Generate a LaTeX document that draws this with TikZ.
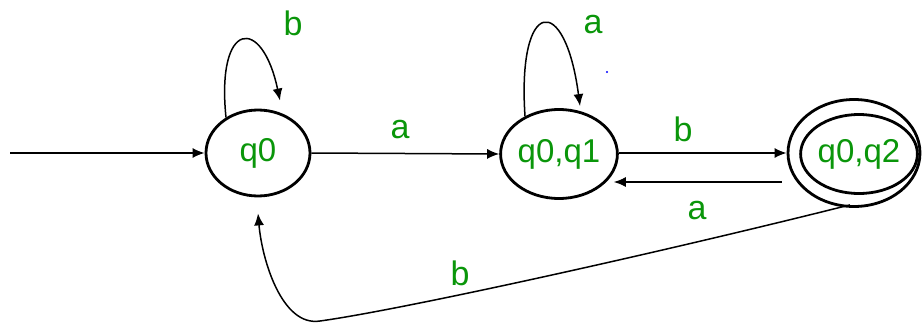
\documentclass[tikz,border=0pt]{standalone}
\usepackage{fontspec}
\setmainfont{Liberation Sans}
\usepackage{tikz}
\usetikzlibrary{arrows.meta, positioning, shapes.geometric}
\usepackage{xcolor}
\definecolor{labgreen}{RGB}{10,150,10}

\begin{document}
\begin{tikzpicture}[
        x=1pt, y=-1pt,
        state/.style={ellipse, draw, line width=2.8pt, inner sep=0pt, text=labgreen, font=\fontsize{33}{36}\selectfont},
        lbl/.style={inner sep=0pt, text=labgreen, font=\fontsize{34}{36}\selectfont},
        arr/.style={-{Latex[length=12pt, width=10pt]}, line width=1.5pt},
    ]
        \useasboundingbox (0,0) rectangle (923,324);

        % States
        \node[state, minimum width=104pt, minimum height=86pt] (q0) at (258,153) {q0};
        \node[state, minimum width=105pt, minimum height=89pt] (q1) at (559,154) {q0,q1};
        \node[state, minimum width=132pt, minimum height=107pt] (q2ring) at (854,153) {};
        \node[state, minimum width=107pt, minimum height=79pt] (q2) at (859,154) {q0,q2};

        % Start
        \coordinate (start) at (10,153);
        \draw[arr] (start) -- (q0.west);

        % Self loops
        \draw[arr] (q0.132) .. controls (216,20) and (262,15) .. ([xshift=22pt, yshift=8pt]q0.north);
        \node[lbl] (lb0) at (293,23) {b};
        \draw[arr] (q1.132) .. controls (517,-3) and (565,-8) .. ([xshift=21pt, yshift=2pt]q1.north);
        \node[lbl] (la1) at (593,25) {a};

        % Forward
        \draw[arr] (q0.east) -- (q1.west);
        \node[lbl] (la0) at (400,130) {a};
        \draw[arr] (q1.east |- q2ring.west) -- (q2ring.west);
        \node[lbl] (lb1) at (683,129) {b};

        % Back
        \draw[arr] ([xshift=-5pt, yshift=-29pt]q2ring.west) -- ([xshift=-5pt, yshift=-28pt]q1.east);
        \node[lbl] (la2) at (697,211) {a};
        \draw[arr] ([xshift=-4pt, yshift=3pt]q2ring.south)
            .. controls (650,255) and (400,310) .. (320,321)
            .. controls (282,327) and (262,260) .. ([yshift=-16pt]q0.south);
        \node[lbl] (lb2) at (460,273) {b};

        % stray dot
        \fill[blue] (607,72) circle (1.2pt);
    \end{tikzpicture}
\end{document}
